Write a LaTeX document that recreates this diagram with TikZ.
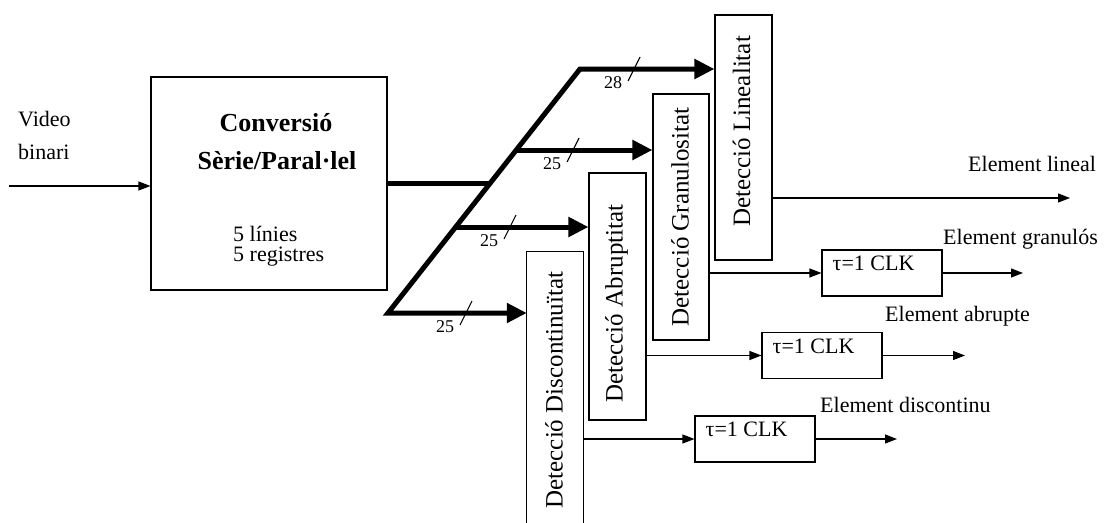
\documentclass[tikz,border=0pt]{standalone}
\usepackage{fontspec}
\setmainfont{Liberation Serif}
\usetikzlibrary{arrows.meta,calc}
\tikzset{bustip/.tip={Triangle[length=20pt,width=19pt]}}
\begin{document}
\begin{tikzpicture}[x=1pt,y=-1pt,
  box/.style={draw, line width=1.1pt, inner sep=0pt},
  thinarr/.style={line width=1.1pt, -{Triangle[length=12pt,width=9pt]}},
  bus/.style={line width=5pt, line join=miter},
  tickmark/.style={line width=1.1pt},
  txt/.style={font=\fontsize{22}{24}\selectfont, inner sep=0pt},
  bold/.style={font=\fontsize{26}{28}\selectfont\bfseries, inner sep=0pt},
  vtxt/.style={font=\fontsize{25}{27}\selectfont, inner sep=0pt, rotate=90},
  num/.style={font=\fontsize{18}{20}\selectfont, inner sep=0pt}]
\useasboundingbox (0,0) rectangle (1110,522);

% main converter
\node[box, minimum width=236pt, minimum height=213pt] (sp) at (269,183.5) {};
\node[bold] (c1) at (276,123) {Conversió};
\node[bold] (c2) at (277,161) {Sèrie/Paral·lel};
\node[txt, anchor=west] (c3) at (233,234) {5 línies};
\node[txt, anchor=west] (c4) at (233,257) {5 registres};

% input
\coordinate (in) at (9,186);
\node[txt, anchor=west] (v1) at (18,119) {Video};
\node[txt, anchor=west] (v2) at (18,152) {binari};
\draw[thinarr] (in) -- (in -| sp.west);

% detection boxes
\node[box, minimum width=57pt, minimum height=245pt] (lin) at (743.5,137.5) {};
\node[box, minimum width=56pt, minimum height=246pt] (gran) at (681,217) {};
\node[box, minimum width=57pt, minimum height=247pt] (abr) at (617.5,296.5) {};
\node[minimum width=56pt, minimum height=272pt, inner sep=0pt] (dd) at (555,388) {};
\draw[line width=1.1pt] (dd.south west) -- (dd.north west) -- (dd.north east) -- (dd.south east);

\node[vtxt] (tl) at ($(lin.center)+(-2,-6)$) {Detecció Linealitat};
\node[vtxt] (tg) at ($(gran.center)+(-1,0)$) {Detecció Granulositat};
\node[vtxt] (ta) at ($(abr.center)+(-1,7)$) {Detecció Abruptitat};
\node[vtxt] (td) at (554,390) {Detecció Discontinuïtat};

% bus
\coordinate (b1s) at (580,69);
\coordinate (b4s) at (388,313);
\coordinate (j0) at (489.9,183.5);
\coordinate (j2) at (516.3,150);
\coordinate (j3) at (455.7,227);
\draw[bus] (sp.east) -- (j0);
\draw[bus, bustip-bustip] (dd.west |- b4s) -- (b4s) -- (b1s) -- (lin.west |- b1s);
\draw[bus, -bustip] (j2) -- (gran.west |- j2);
\draw[bus, -bustip] (j3) -- (abr.west |- j3);

% width ticks and labels
\coordinate (k1) at (634,69);
\coordinate (k2) at (573,150);
\coordinate (k3) at (510,227);
\coordinate (k4) at (466,313);
\foreach \k/\n in {k1/28,k2/25,k3/25,k4/25}{
  \draw[tickmark] ($(\k)+(-6,12)$) -- ($(\k)+(6,-12)$);
  \node[num] at ($(\k)+(-21,14)$) {\n};
}

% delay boxes
\node[box, minimum width=120pt, minimum height=46pt] (t1) at (882,273) {};
\node[box, minimum width=120pt, minimum height=46pt] (t2) at (822,355.5) {};
\node[box, minimum width=120pt, minimum height=46pt] (t3) at (755,439) {};
\foreach \t in {t1,t2,t3}{
  \node[txt, anchor=west] at ($(\t.north west)+(11,14)$) {τ=1 CLK};
}

% outputs
\coordinate (lo) at (1070,198);
\coordinate (e1) at (1023,273);
\coordinate (e2) at (965,355.5);
\coordinate (e3) at (897,439);
\draw[thinarr] (lin.east |- lo) -- (lo);
\draw[thinarr] (gran.east |- t1.west) -- (t1.west);
\draw[thinarr] (t1.east) -- (e1);
\draw[thinarr] (abr.east |- t2.west) -- (t2.west);
\draw[thinarr] (t2.east) -- (e2);
\draw[thinarr] (dd.east |- t3.west) -- (t3.west);
\draw[thinarr] (t3.east) -- (e3);

\node[txt, anchor=west] (l1) at (968,164) {Element lineal};
\node[txt, anchor=west] (l2) at (943,239) {Element granulós};
\node[txt, anchor=west] (l3) at (885,316) {Element abrupte};
\node[txt, anchor=west] (l4) at (820,405) {Element discontinu};
\end{tikzpicture}
\end{document}
